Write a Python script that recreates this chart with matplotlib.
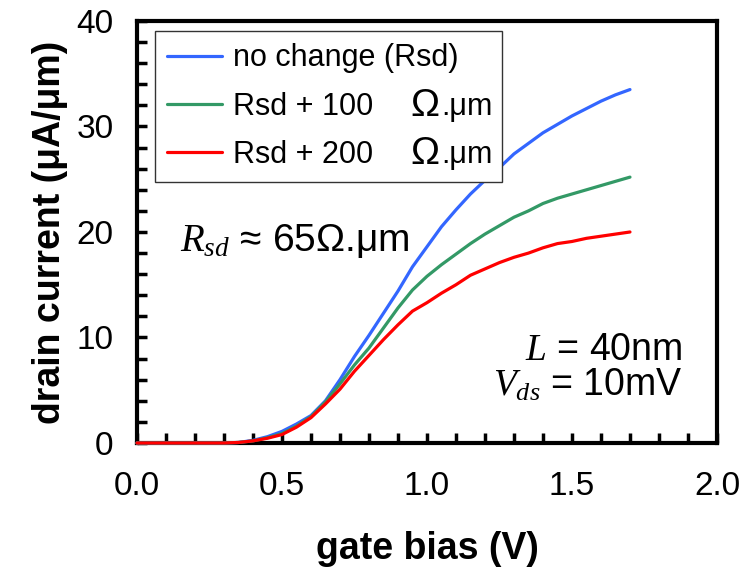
import numpy as np
import matplotlib
matplotlib.use("Agg")
from matplotlib import pyplot as plt
from matplotlib.ticker import MultipleLocator
from matplotlib.patches import Rectangle

# data (gate bias in V, drain current in uA/um)
gate_bias = [0.00, 0.05, 0.10, 0.15, 0.20, 0.25, 0.30, 0.35, 0.40, 0.45,
             0.50, 0.55, 0.60, 0.65, 0.70, 0.75, 0.80, 0.85, 0.90, 0.95,
             1.00, 1.05, 1.10, 1.15, 1.20, 1.25, 1.30, 1.35, 1.40, 1.45,
             1.50, 1.55, 1.60, 1.65, 1.70]

i_no_change = [0, 0, 0, 0, 0, 0, 0, 0.05, 0.25, 0.6,
               1.1, 1.8, 2.6, 4.0, 6.0, 8.2, 10.2, 12.3, 14.4, 16.7,
               18.6, 20.5, 22.1, 23.6, 24.9, 26.1, 27.4, 28.4, 29.4, 30.2,
               31.0, 31.7, 32.4, 33.0, 33.5]

i_plus_100 = [0, 0, 0, 0, 0, 0, 0, 0.05, 0.2, 0.5,
              0.9, 1.6, 2.5, 3.9, 5.6, 7.4, 9.0, 10.9, 12.8, 14.5,
              15.8, 16.9, 17.9, 18.9, 19.8, 20.6, 21.4, 22.0, 22.7, 23.2,
              23.6, 24.0, 24.4, 24.8, 25.2]

i_plus_200 = [0, 0, 0, 0, 0, 0, 0, 0.05, 0.2, 0.45,
              0.8, 1.5, 2.4, 3.7, 5.1, 6.8, 8.3, 9.8, 11.2, 12.5,
              13.3, 14.2, 15.0, 15.9, 16.5, 17.1, 17.6, 18.0, 18.5, 18.9,
              19.1, 19.4, 19.6, 19.8, 20.0]

labels = ["no change (Rsd)", "Rsd + 100", "Rsd + 200"]
unit_tail = [None, "\u03a9", "\u03a9"]   # big omega + ".um" drawn after the label
colors = ["#3366ff", "#339966", "#ff0000"]

plt.rcParams['font.family'] = ['Liberation Sans', 'DejaVu Sans']
plt.rcParams['mathtext.fontset'] = 'custom'
plt.rcParams['mathtext.it'] = 'Liberation Serif:italic'
plt.rcParams['mathtext.rm'] = 'Liberation Sans'

fig = plt.figure(figsize=(7.46, 5.67), dpi=100)
ax = fig.add_axes([0.1836, 0.2187, 0.7775, 0.7443])

for ys, c, lab in zip([i_no_change, i_plus_100, i_plus_200], colors, labels):
    ax.plot(gate_bias, ys, color=c, lw=2.3, label=lab, zorder=3,
            clip_on=False, solid_capstyle='round')

ax.set_xlim(0, 2.0)
ax.set_ylim(0, 40)
ax.xaxis.set_major_locator(MultipleLocator(0.5))
ax.xaxis.set_minor_locator(MultipleLocator(0.1))
ax.yaxis.set_major_locator(MultipleLocator(10))
ax.yaxis.set_minor_locator(MultipleLocator(2))
ax.xaxis.set_major_formatter(plt.FuncFormatter(lambda v, p: '%.1f' % v))

for s in ax.spines.values():
    s.set_linewidth(3)
ax.tick_params(which='both', direction='in', length=7, width=2.5,
               labelsize=24, top=False, right=False)
ax.tick_params(axis='x', pad=20)
ax.tick_params(axis='y', pad=17)

ax.set_xlabel('gate bias (V)', fontsize=27, fontweight='bold', labelpad=21)
ax.set_ylabel('drain current (\u03bcA/\u03bcm)', fontsize=27, fontweight='bold', labelpad=6)

leg = ax.legend(loc='upper left', bbox_to_anchor=(0.031, 0.976), borderaxespad=0,
                fontsize=22, handlelength=1.8, handletextpad=0.35, labelspacing=0.6,
                borderpad=0.4, frameon=False)
leg.set_zorder(6)

fig.canvas.draw()
rend = fig.canvas.get_renderer()
tails = []
for t, om in zip(leg.get_texts(), unit_tail):
    if om is None:
        continue
    a1 = ax.annotate(om, xy=(1, 0), xycoords=t, xytext=(27, -1.5),
                     textcoords='offset points', fontsize=28, ha='left',
                     va='bottom', zorder=7)
    a2 = ax.annotate('.\u03bcm', xy=(1, 0), xycoords=a1, xytext=(1, 1.5),
                     textcoords='offset points', fontsize=22, ha='left',
                     va='bottom', zorder=7)
    tails += [a1, a2]

# frame round the legend and the omega tails
fig.canvas.draw()
lb = leg.get_window_extent(rend)
x1 = max(a.get_window_extent(rend).x1 for a in tails) + 10
fw, fh = fig.bbox.width, fig.bbox.height
box = Rectangle((lb.x0 / fw, lb.y0 / fh), (x1 - lb.x0) / fw, (lb.y1 - lb.y0) / fh,
                transform=fig.transFigure, facecolor='white', edgecolor='#333333',
                lw=1.0, zorder=5)
ax.add_patch(box)

ax.text(0.074, 0.456, '$R_{sd}$ \u2248 65\u03a9.\u03bcm', transform=ax.transAxes,
        fontsize=28, ha='left', va='baseline')
ax.text(0.941, 0.196, '$L$ = 40nm', transform=ax.transAxes, fontsize=27,
        ha='right', va='baseline')
ax.text(0.941, 0.113, '$V_{ds}$ = 10mV', transform=ax.transAxes, fontsize=27,
        ha='right', va='baseline')

fig.savefig('out.png', dpi=100)
